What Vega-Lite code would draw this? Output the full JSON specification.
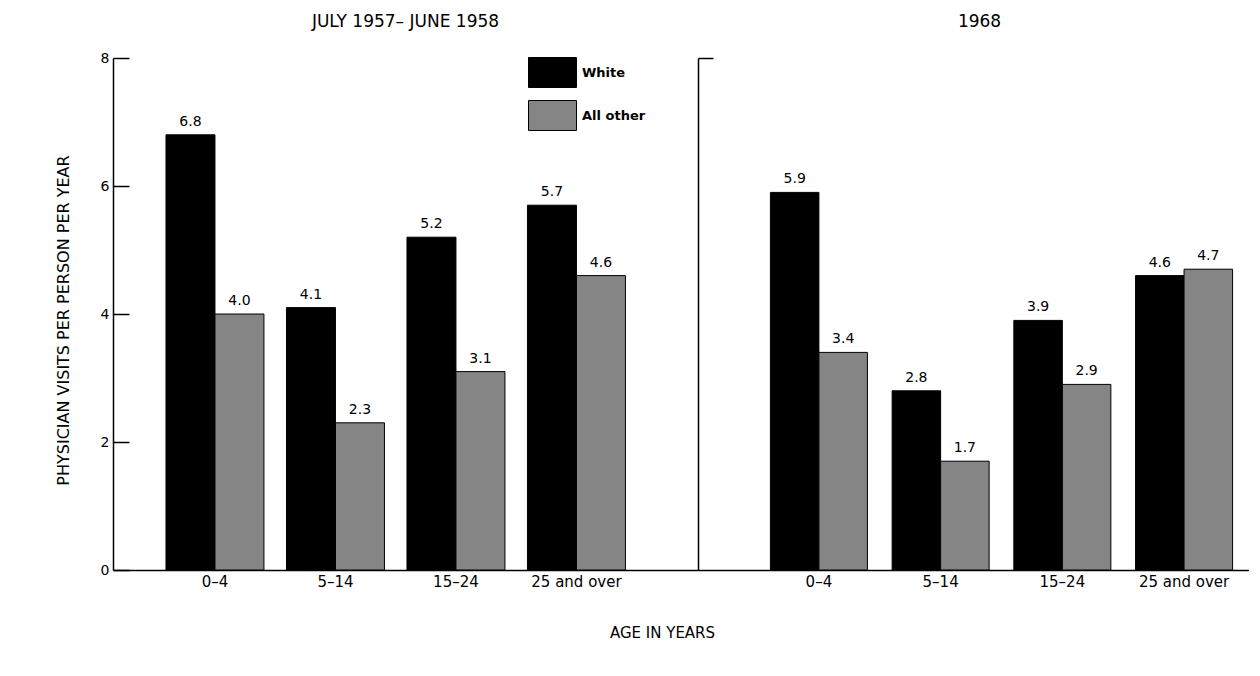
{
  "$schema": "https://vega.github.io/schema/vega-lite/v6.json",
  "padding": {"left": 55, "top": 13, "right": 0, "bottom": 0},
  "background": "white",
  "spacing": 0,
  "bounds": "flush",
  "data": {"values": [
    {"period": "A", "age": "0–4", "race": "White", "v": 6.8},
    {"period": "A", "age": "0–4", "race": "All other", "v": 4.0},
    {"period": "A", "age": "5–14", "race": "White", "v": 4.1},
    {"period": "A", "age": "5–14", "race": "All other", "v": 2.3},
    {"period": "A", "age": "15–24", "race": "White", "v": 5.2},
    {"period": "A", "age": "15–24", "race": "All other", "v": 3.1},
    {"period": "A", "age": "25 and over", "race": "White", "v": 5.7},
    {"period": "A", "age": "25 and over", "race": "All other", "v": 4.6},
    {"period": "B", "age": "0–4", "race": "White", "v": 5.9},
    {"period": "B", "age": "0–4", "race": "All other", "v": 3.4},
    {"period": "B", "age": "5–14", "race": "White", "v": 2.8},
    {"period": "B", "age": "5–14", "race": "All other", "v": 1.7},
    {"period": "B", "age": "15–24", "race": "White", "v": 3.9},
    {"period": "B", "age": "15–24", "race": "All other", "v": 2.9},
    {"period": "B", "age": "25 and over", "race": "White", "v": 4.6},
    {"period": "B", "age": "25 and over", "race": "All other", "v": 4.7}
  ]},
  "config": {
    "font": "DejaVu Sans",
    "view": {"stroke": null},
    "axis": {
      "domainColor": "black", "domainWidth": 1.5, "tickColor": "black", "tickWidth": 1.5,
      "labelColor": "black", "titleColor": "black", "grid": false,
      "labelFont": "DejaVu Sans", "labelFontSize": 14, "titleFont": "DejaVu Sans",
      "titleFontSize": 15, "titleFontWeight": "normal"
    },
    "title": {"fontSize": 17, "fontWeight": "normal", "color": "black", "frame": "group", "font": "DejaVu Sans"}
  },
  "resolve": {"scale": {"x": "independent", "xOffset": "independent"}, "legend": {"fill": "independent"}},
  "hconcat": [
    {
      "width": 585, "height": 512,
      "title": {"text": "JULY 1957– JUNE 1958", "offset": 20},
      "transform": [{"filter": "datum.period == 'A'"}],
      "encoding": {
        "x": {"field": "age", "type": "nominal", "sort": ["0–4", "5–14", "15–24", "25 and over"],
          "scale": {"paddingInner": 0.187, "paddingOuter": 0.521, "align": 0.422},
          "axis": {"title": "AGE IN YEARS", "labelAngle": 0, "ticks": false, "labelPadding": 4, "labelFontSize": 15,
            "titleX": 549, "titleY": 62, "titleBaseline": "middle", "titleAlign": "center"}},
        "xOffset": {"field": "race", "type": "nominal", "sort": ["White", "All other"], "scale": {"paddingInner": 0, "paddingOuter": 0}},
        "y": {"field": "v", "type": "quantitative", "scale": {"domain": [0, 8]},
          "axis": {"values": [0, 2, 4, 6, 8], "tickSize": -16, "labelPadding": 20,
            "title": "PHYSICIAN VISITS PER PERSON PER YEAR", "titleFontSize": 16, "titleX": -50, "titleY": 262,
            "titleBaseline": "middle", "titleAlign": "center"}}
      },
      "layer": [
        {"mark": {"type": "bar", "stroke": "black", "strokeWidth": 1},
          "encoding": {"fill": {"field": "race", "type": "nominal", "sort": ["White", "All other"],
            "scale": {"domain": ["White", "All other"], "range": ["#000000", "#858585"]},
            "legend": {"orient": "none", "legendX": 424, "legendY": -1, "title": null,
              "symbolType": "M-1.6,-1H1.6V1H-1.6Z", "symbolSize": 900,
              "symbolStrokeColor": "black", "symbolStrokeWidth": 1, "symbolOpacity": 1,
              "labelFontSize": 13, "labelFontWeight": "bold", "labelColor": "black", "labelFont": "DejaVu Sans",
              "rowPadding": 8, "labelOffset": 14, "padding": 0}}}},
        {"mark": {"type": "text", "dy": -9, "baseline": "alphabetic", "fontSize": 14, "color": "black"},
          "encoding": {"text": {"field": "v", "type": "quantitative", "format": ".1f"}}}
      ]
    },
    {
      "width": 551, "height": 512,
      "title": {"text": "1968", "dx": 6, "offset": 26},
      "transform": [{"filter": "datum.period == 'B'"}],
      "encoding": {
        "x": {"field": "age", "type": "nominal", "sort": ["0–4", "5–14", "15–24", "25 and over"],
          "scale": {"paddingInner": 0.203, "paddingOuter": 0.365, "align": 0.815},
          "axis": {"title": null, "labelAngle": 0, "ticks": false, "labelPadding": 4, "labelFontSize": 15}},
        "xOffset": {"field": "race", "type": "nominal", "sort": ["White", "All other"], "scale": {"paddingInner": 0, "paddingOuter": 0}},
        "y": {"field": "v", "type": "quantitative", "scale": {"domain": [0, 8]},
          "axis": {"values": [8], "tickSize": -15, "labels": false, "title": null}}
      },
      "layer": [
        {"mark": {"type": "bar", "stroke": "black", "strokeWidth": 1},
          "encoding": {"fill": {"field": "race", "type": "nominal", "sort": ["White", "All other"],
            "scale": {"domain": ["White", "All other"], "range": ["#000000", "#858585"]},
            "legend": null}}},
        {"mark": {"type": "text", "dy": -9, "baseline": "alphabetic", "fontSize": 14, "color": "black"},
          "encoding": {"text": {"field": "v", "type": "quantitative", "format": ".1f"}}}
      ]
    }
  ]
}
